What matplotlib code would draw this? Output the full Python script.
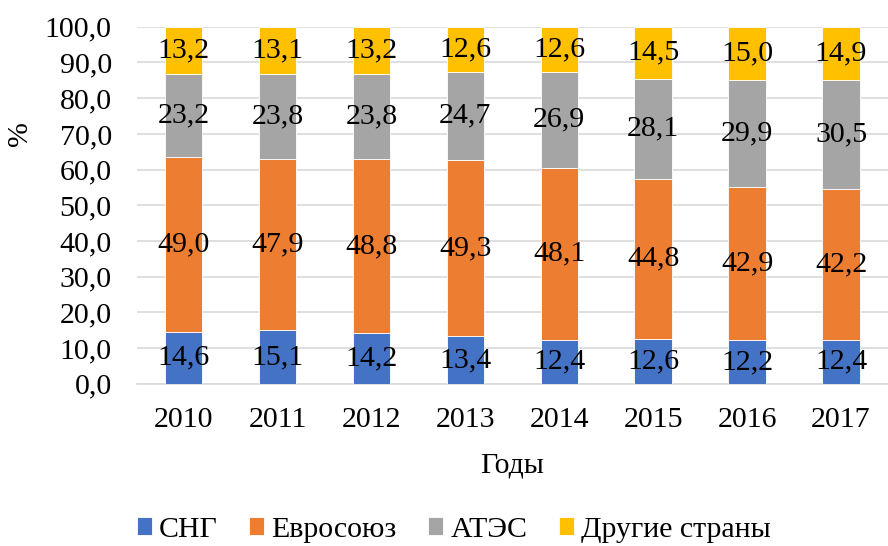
import matplotlib
matplotlib.use("Agg")
import matplotlib.pyplot as plt
import numpy as np

years = ["2010", "2011", "2012", "2013", "2014", "2015", "2016", "2017"]
cis = [14.6, 15.1, 14.2, 13.4, 12.4, 12.6, 12.2, 12.4]
eu = [49.0, 47.9, 48.8, 49.3, 48.1, 44.8, 42.9, 42.2]
apec = [23.2, 23.8, 23.8, 24.7, 26.9, 28.1, 29.9, 30.5]
other = [13.2, 13.1, 13.2, 12.6, 12.6, 14.5, 15.0, 14.9]
series_names = ["СНГ", "Евросоюз", "АТЭС", "Другие страны"]
colors = ["#4472C4", "#ED7D31", "#A5A5A5", "#FFC000"]

plt.rcParams['font.family'] = ['Liberation Serif', 'DejaVu Serif']
FS = 21.5

fig = plt.figure(figsize=(8.88, 5.46), dpi=100)
ax = fig.add_axes([0.154, 0.297, 0.846, 0.654])

x = np.arange(len(years))
bottom = np.zeros(len(years))
handles = []
for vals, name, c in zip([cis, eu, apec, other], series_names, colors):
    v = np.array(vals)
    b = ax.bar(x, v, 0.4, bottom=bottom, color=c, label=name, zorder=3,
               edgecolor='white', linewidth=0.6)
    handles.append(b)
    for xi, bi, vi in zip(x, bottom, v):
        ax.text(xi, bi + vi / 2, f"{vi:.1f}".replace('.', ','), ha='center',
                va='center', fontsize=FS, zorder=4)
    bottom += v

ax.set_xlim(-0.5, len(years) - 0.5)
ax.set_ylim(0, 100)
ax.set_yticks(np.arange(0, 101, 10))
ax.set_yticklabels([f"{t:.1f}".replace('.', ',') for t in np.arange(0, 101, 10)])
ax.set_xticks(x)
ax.set_xticklabels(years)
ax.tick_params(axis='both', labelsize=FS, length=0)
ax.tick_params(axis='x', pad=17)
ax.tick_params(axis='y', pad=18)
ax.grid(axis='y', color='#d9d9d9', linewidth=1.2, zorder=0)
for s in ['top', 'right', 'left']:
    ax.spines[s].set_visible(False)
ax.spines['bottom'].set_color('#d9d9d9')
ax.spines['bottom'].set_linewidth(1.2)

ax.set_ylabel("%", fontsize=FS)
ax.yaxis.set_label_coords(-0.138, 0.70)
ax.set_xlabel("Годы", fontsize=FS, labelpad=14)

fig.legend(handles=handles, labels=series_names, loc='lower center',
           bbox_to_anchor=(0.511, -0.043), ncol=4, frameon=False, fontsize=FS,
           handlelength=0.5, handleheight=0.5, handletextpad=0.25, columnspacing=1.05)

fig.savefig("out.png", dpi=100)
